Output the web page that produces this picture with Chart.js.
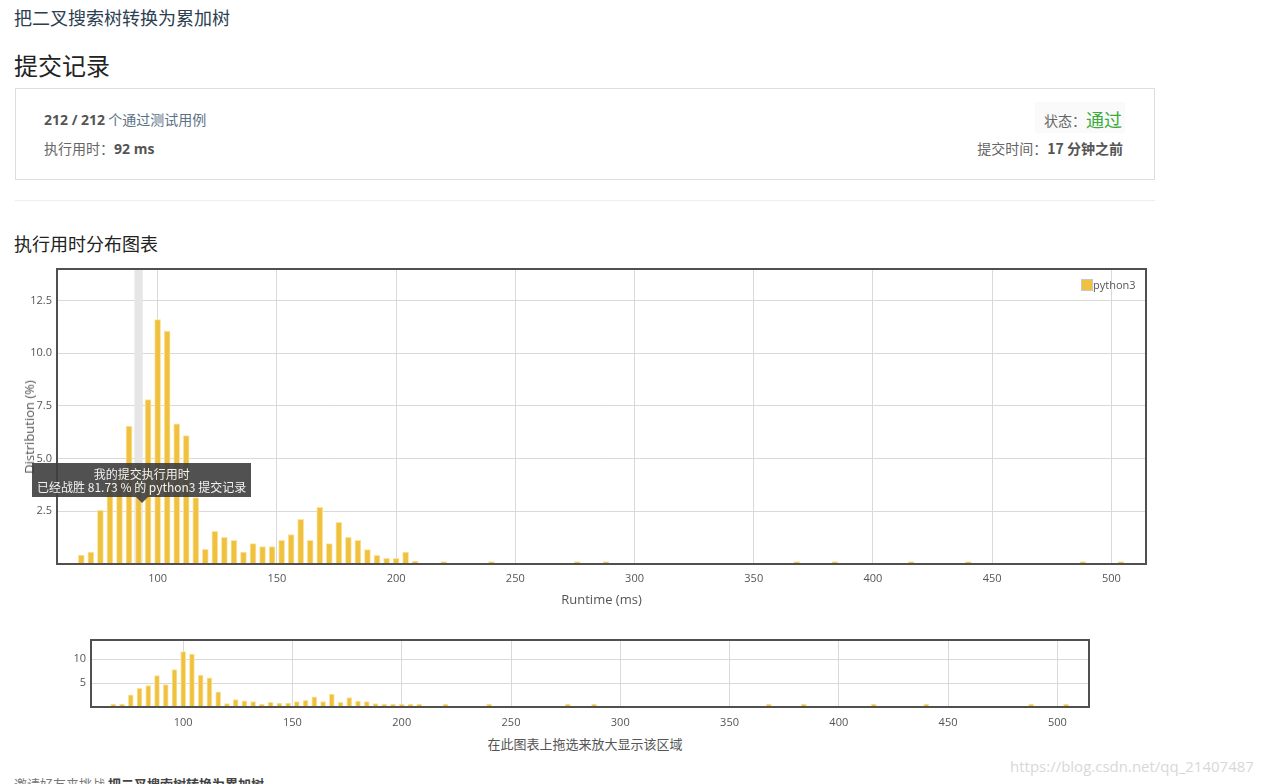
<!DOCTYPE html>
<html><head><meta charset="utf-8">
<script src="https://cdn.jsdelivr.net/npm/chart.js@4.4.1/dist/chart.umd.min.js"></script>
<style>
body{margin:0;background:#fff;font-family:"Open Sans","Noto Sans CJK SC",sans-serif;width:1263px;height:784px;overflow:hidden;position:relative;}
.abs{position:absolute;white-space:nowrap;}
.cjk{font-family:"Noto Sans CJK SC","Open Sans",sans-serif;}
#tip{position:absolute;background:rgba(62,62,62,0.9);color:#f2f2f2;font-size:12px;line-height:13px;text-align:center;padding:4px 5px 4px 5px;font-family:"Noto Sans CJK SC","Open Sans",sans-serif;white-space:nowrap;}
#tip:after{content:"";position:absolute;left:50%;margin-left:-6px;bottom:-6px;border-left:6px solid transparent;border-right:6px solid transparent;border-top:6px solid rgba(62,62,62,0.9);}
</style></head><body>

<div class="abs cjk" style="left:14px;top:4px;font-size:18px;color:#2c3e50;">把二叉搜索树转换为累加树</div>
<div class="abs cjk" style="left:14px;top:47px;font-size:24px;color:#222;">提交记录</div>
<div class="abs" style="left:15px;top:88px;width:1138px;height:90px;border:1px solid #ddd;"></div>
<div class="abs cjk" style="left:44px;top:109px;font-size:14px;color:#555;"><b style="font-family:'Open Sans'">212 / 212</b> <span style="color:#5b7186">个通过测试用例</span></div>
<div class="abs cjk" style="left:44px;top:138px;font-size:14px;color:#666;">执行用时：<b style="font-family:'Open Sans';color:#555">92 ms</b></div>
<div class="abs" style="left:1035px;top:102px;width:90px;height:31px;background:#fafafa;"></div>
<div class="abs cjk" style="right:141px;top:105px;font-size:14px;color:#666;">状态：<span style="font-size:18px;color:#3bab3b;position:relative;top:1px">通过</span></div>
<div class="abs cjk" style="right:140px;top:138px;font-size:14px;color:#666;">提交时间：<b style="color:#555">17 分钟之前</b></div>
<div class="abs" style="left:15px;top:200px;width:1140px;height:1px;background:#eee;"></div>
<div class="abs cjk" style="left:14px;top:230px;font-size:18px;color:#222;">执行用时分布图表</div>

<div class="abs" style="left:0;top:262px;width:1160px;height:350px;"><canvas id="main" width="1160" height="350"></canvas></div>
<div class="abs" style="top:427px;font-size:13px;color:#555;transform:translate(-50%,-50%) rotate(-90deg);transform-origin:center;left:29px;">Distribution (%)</div>
<div class="abs" id="legend" style="font-size:11px;color:#555;">
  <span style="display:inline-block;width:10px;height:10px;background:#efc13f;border:1px solid #c8c8c8;vertical-align:-2px;"></span>python3
</div>
<div id="tip"></div>

<div class="abs" style="left:0;top:632px;width:1100px;height:100px;"><canvas id="mini" width="1100" height="100"></canvas></div>
<div class="abs cjk" style="left:585px;top:734px;transform:translateX(-50%);font-size:13px;color:#555;">在此图表上拖选来放大显示该区域</div>

<div class="abs cjk" style="left:14px;top:774px;font-size:13px;color:#777;">邀请好友来挑战 <b style="color:#444">把二叉搜索树转换为累加树</b></div>
<div class="abs" style="left:1010px;top:756px;font-size:15px;color:#d8d8d8;">https://blog.csdn.net/qq_21407487</div>

<script>
// ---- data ----
const runtimeBins = [68,72,76,80,84,88,92,96,100,104,108,112,116,120,124,128,132,136,140,144,148,152,156,160,164,168,172,176,180,184,188,192,196,200,204,208,220,240,276,288,368,384,416,440,488,504];
const distribution = [0.42,0.57,2.55,3.9,4.45,6.55,4.7,7.8,11.6,11.05,6.65,6.1,3.15,0.7,1.55,1.27,1.12,0.57,0.97,0.83,0.83,1.12,1.4,2.12,1.12,2.69,0.97,1.98,1.26,1.12,0.69,0.41,0.27,0.27,0.57,0.14,0.11,0.11,0.11,0.11,0.11,0.11,0.11,0.11,0.11,0.11];
const xTickValues = [100,150,200,250,300,350,400,450,500];
const mainYTicks = [2.5,5.0,7.5,10.0,12.5];
const miniYTicks = [5,10];
const seriesName = "python3";
const myRuntime = 92;
const beatPercent = "81.73";
const xRange = [57.8, 514.5];
const yMax = 14;

const points = runtimeBins.map((x,i)=>({x:x,y:distribution[i]}));
const FONT = "'Open Sans','Noto Sans CJK SC',sans-serif";

const frame = {
  id:'frame',
  beforeDatasetsDraw(chart, args, opts){
    if(!opts.band) return;
    const c=chart.ctx, a=chart.chartArea, xs=chart.scales.x;
    const x0=xs.getPixelForValue(myRuntime-1.75), x1=xs.getPixelForValue(myRuntime+1.75);
    c.save(); c.fillStyle='#e6e6e6'; c.fillRect(x0,a.top,x1-x0,a.bottom-a.top); c.restore();
  },
  afterDraw(chart){
    const c=chart.ctx, a=chart.chartArea;
    c.save(); c.strokeStyle='#505050'; c.lineWidth=2;
    c.strokeRect(a.left,a.top,a.right-a.left,a.bottom-a.top); c.restore();
  }
};

function makeChart(id, cfg){
  return new Chart(document.getElementById(id), {
    type:'bar',
    data:{datasets:[{label:seriesName,data:points,backgroundColor:'#efc13f',borderColor:'rgba(252,228,160,1)',borderWidth:1,barThickness:cfg.bar,minBarLength:cfg.minLen,grouped:false}]},
    options:{
      responsive:false, animation:false,
      layout:{padding:{top:cfg.top,right:cfg.right,left:0,bottom:0}},
      plugins:{legend:{display:false},tooltip:{enabled:false},frame:{band:cfg.band}},
      scales:{
        x:{type:'linear',min:xRange[0],max:xRange[1],offset:false,bounds:'ticks',
          afterBuildTicks:s=>{s.ticks=xTickValues.map(v=>({value:v}));},
          afterFit:s=>{s.height=cfg.xh;s.paddingLeft=0;s.paddingRight=0;},
          grid:{color:'#d9d9d9',drawTicks:false,offset:false},border:{display:false},
          ticks:{padding:cfg.xpad,color:'#555',font:{size:11,family:FONT},maxRotation:0,autoSkip:false},
          title:{display:cfg.xtitle,text:'Runtime (ms)',color:'#555',font:{size:13,family:FONT},padding:{top:6}}
        },
        y:{min:0,max:yMax,
          afterBuildTicks:s=>{s.ticks=cfg.yticks.map(v=>({value:v}));},
          afterFit:s=>{s.width=cfg.yw;s.paddingTop=0;s.paddingBottom=0;},
          grid:{color:'#d9d9d9',drawTicks:false},border:{display:false},
          ticks:{padding:5,color:'#555',font:{size:11,family:FONT},callback:v=>cfg.fmt(v)}
        }
      }
    },
    plugins:[frame]
  });
}

const main = makeChart('main',{bar:6,minLen:2,top:7,right:14,xh:48,yw:57,xpad:8,xtitle:true,band:true,yticks:mainYTicks,fmt:v=>v.toFixed(1)});
const mini = makeChart('mini',{bar:5,minLen:3,top:8,right:11,xh:25,yw:91,xpad:9,xtitle:false,band:false,yticks:miniYTicks,fmt:v=>String(v)});

// legend and tooltip placed from the chart's own scales
const a = main.chartArea, top0 = 262;
const lg = document.getElementById('legend');
lg.style.left = (a.right - 65) + 'px';
lg.style.top = (top0 + a.top + 8) + 'px';

const tip = document.getElementById('tip');
tip.innerHTML = '我的提交执行用时<br>已经战胜 ' + beatPercent + ' % 的 ' + seriesName + ' 提交记录';
const tx = main.scales.x.getPixelForValue(myRuntime) + 3;
const ty = top0 + main.scales.y.getPixelForValue(2.88);
tip.style.left = (tx - tip.offsetWidth/2) + 'px';
tip.style.top = (ty - 6 - tip.offsetHeight) + 'px';
</script>
</body></html>
